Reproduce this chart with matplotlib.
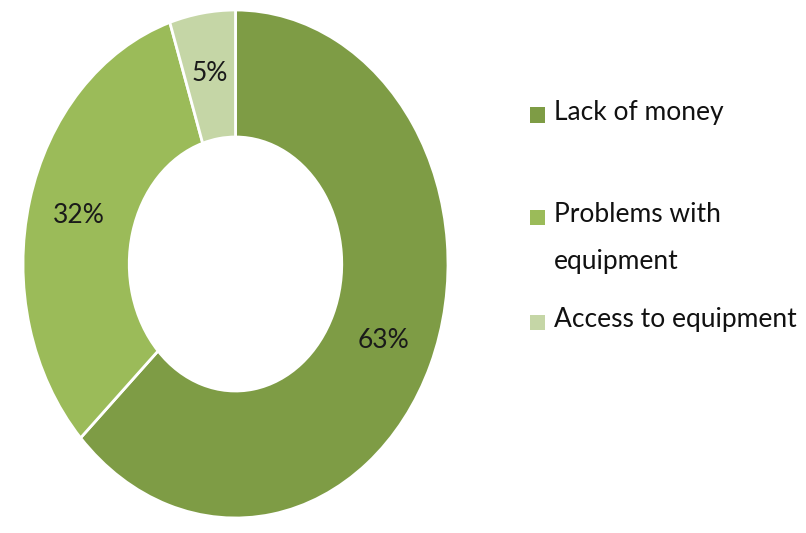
import matplotlib.pyplot as plt
from matplotlib.patches import Rectangle

categorias = ["Lack of money", "Problems with equipment", "Access to equipment"]
etiquetas_leyenda = ["Lack of money", "Problems with\nequipment", "Access to equipment"]
porcentajes = [63, 32, 5]
colores = ["#7e9c45", "#9bbb59", "#c5d6a6"]


def generar_grafico():
    plt.rcParams["font.family"] = ["Lato", "DejaVu Sans"]
    fig = plt.figure(figsize=(8.06, 5.33), dpi=100)

    # the donut is drawn stretched vertically, so the axes are not square
    ax = fig.add_axes([23 / 806, 15 / 533, 425 / 806, 508 / 533])
    wedges, _, autotexts = ax.pie(
        porcentajes,
        colors=colores,
        startangle=90,
        counterclock=False,
        autopct="%d%%",
        pctdistance=0.76,
        wedgeprops=dict(width=0.5, edgecolor="white", linewidth=2),
        textprops=dict(fontsize=19, color="#1a1a1a"),
    )
    ax.set_aspect("auto")
    ax.set_xlim(-1, 1)
    ax.set_ylim(-1, 1)

    # legend drawn by hand: square marker next to the first line of each label
    ys = [115, 217, 322]
    for color, texto, y in zip(colores, etiquetas_leyenda, ys):
        fig.patches.append(Rectangle((530 / 806, (533 - y - 7.5) / 533), 15 / 806, 15 / 533,
                                     transform=fig.transFigure, facecolor=color, edgecolor="none"))
        fig.text(554 / 806, (533 - y + 15) / 533, texto, fontsize=19, va="top", ha="left",
                 color="#111111", linespacing=2.1)

    fig.savefig("out.png", dpi=100)


if __name__ == "__main__":
    generar_grafico()
